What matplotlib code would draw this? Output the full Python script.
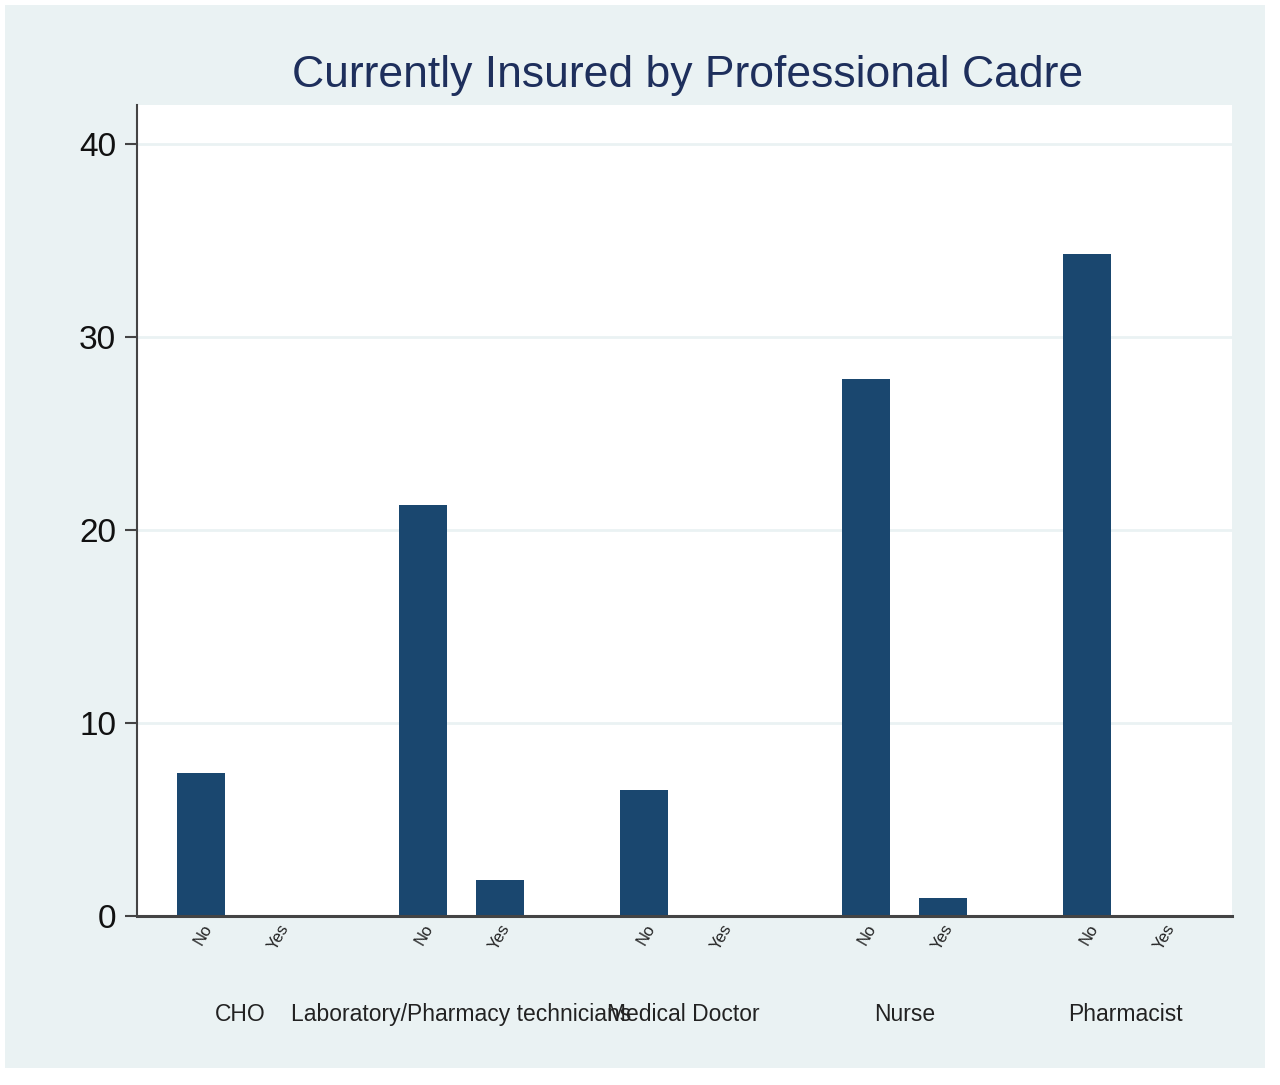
import matplotlib
matplotlib.use("Agg")
import matplotlib.pyplot as plt
import matplotlib.transforms as mtransforms
from matplotlib.patches import Rectangle
from matplotlib import font_manager
import numpy as np

# ---- data ----
cadres = ["CHO", "Laboratory/Pharmacy technicians", "Medical Doctor", "Nurse", "Pharmacist"]
insured_levels = ["No", "Yes"]
pct_no = [7.4, 21.3, 6.5, 27.8, 34.3]
pct_yes = [0.0, 1.85, 0.0, 0.93, 0.0]
yticks = [0, 10, 20, 30, 40]
title = "Currently Insured by Professional Cadre"

names = {f.name for f in font_manager.fontManager.ttflist}
base = "Liberation Sans" if "Liberation Sans" in names else "DejaVu Sans"
plt.rcParams["font.family"] = [base, "DejaVu Sans"]

W, H = 1280, 1085
fig = plt.figure(figsize=(W / 100, H / 100), dpi=100, facecolor="white")

bg = "#EAF2F3"
fig.patches.append(Rectangle((5 / W, 1 - 1068 / H), 1260 / W, 1063 / H,
                             transform=fig.transFigure, facecolor=bg,
                             edgecolor="none", zorder=-10))

ax = fig.add_axes([137 / W, 1 - 916 / H, (1232 - 137) / W, (916 - 105) / H])
ax.set_facecolor("white")

navy = "#1A476F"
off = 0.174
bw = 0.217
x = np.arange(len(cadres))
ax.bar(x - off, pct_no, width=bw, color=navy, edgecolor="none", zorder=3)
ax.bar(x + off, pct_yes, width=bw, color=navy, edgecolor="none", zorder=3)

ax.set_xlim(-0.465, len(cadres) - 1 + 0.479)
ax.set_ylim(0, 42)
ax.set_yticks(yticks)
ax.set_yticklabels([str(t) for t in yticks], fontsize=24, color="#111111")
ax.yaxis.grid(True, color=bg, linewidth=2.0, zorder=0)
ax.set_axisbelow(True)
ax.tick_params(axis="y", length=9, width=1.5, color="#444444", pad=6, direction="out")

for s in ["top", "right"]:
    ax.spines[s].set_visible(False)
ax.spines["left"].set_color("#444444")
ax.spines["left"].set_linewidth(1.5)
ax.spines["bottom"].set_color("#444444")
ax.spines["bottom"].set_linewidth(2.2)
ax.spines["bottom"].set_zorder(4)

# inner labels No / Yes, outer labels cadre
ax.set_xticks([])
trans = mtransforms.blended_transform_factory(ax.transData, ax.transAxes)
for i in range(len(cadres)):
    for j, lvl in enumerate(insured_levels):
        xp = x[i] + (off if j == 1 else -off)
        ax.text(xp + 0.03, -0.012, lvl, transform=trans, rotation=60,
                rotation_mode="anchor", ha="right", va="center",
                fontsize=12, color="#222222")
    ax.text(x[i], -0.122, cadres[i], transform=trans, ha="center", va="center",
            fontsize=16.5, color="#222222")

fig.text(688 / W, 1 - 76 / H, title, ha="center", va="center",
         fontsize=32, color="#1E2F5C")

fig.savefig("out.png", dpi=100, facecolor="white")
